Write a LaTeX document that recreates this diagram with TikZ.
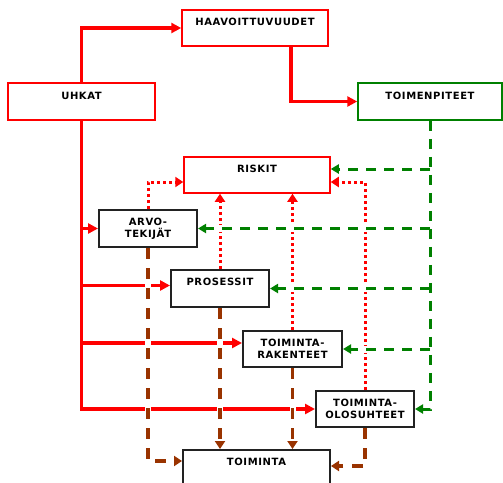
\documentclass[tikz,border=0pt]{standalone}
\usepackage{fontspec}
\newfontfamily\lblfont[LetterSpace=6]{DejaVu Sans}
\usetikzlibrary{arrows.meta}
\definecolor{rd}{RGB}{255,0,0}
\definecolor{gn}{RGB}{0,128,0}
\definecolor{bn}{RGB}{153,51,0}
\definecolor{bk}{RGB}{34,34,34}
\begin{document}
\begin{tikzpicture}[x=1pt,y=-1pt,
  box/.style={draw, fill=white, inner sep=0pt, align=center,
    font=\lblfont\bfseries\fontsize{10}{12}\selectfont},
  redbox/.style={box, draw=rd, line width=1.5pt},
  grnbox/.style={box, draw=gn, line width=1.5pt},
  blkbox/.style={box, draw=bk, line width=2pt},
  redsolid/.style={draw=rd, line width=3.5pt, -{Triangle[length=10pt,width=10pt]}},
  reddot/.style={draw=rd, line width=3pt, dash pattern=on 3pt off 3pt,
    -{Triangle[length=8pt,width=10pt]}},
  grn/.style={draw=gn, line width=3pt, dash pattern=on 10pt off 8pt,
    -{Triangle[length=8pt,width=9pt]},
    preaction={draw=white, line width=7pt, solid, -, shorten <=3pt, shorten >=9pt}},
  brn/.style={draw=bn, line width=3.5pt, dash pattern=on 11pt off 9pt,
    -{Triangle[length=8pt,width=10pt]},
    preaction={draw=white, line width=6pt, solid, -, shorten <=3pt, shorten >=9pt}}
]
\useasboundingbox (0,0) rectangle (503,482);
\clip (0,0) rectangle (503,482);

% boxes
\node[redbox, minimum width=146pt, minimum height=36pt, text height=15.5pt, text depth=20.5pt] (haav) at (255,28) {HAAVOITTUVUUDET};
\node[redbox, minimum width=147pt, minimum height=37pt, text height=16.2pt, text depth=20.8pt] (uhkat) at (81.5,101.5) {UHKAT};
\node[grnbox, minimum width=144pt, minimum height=37pt, text height=16.2pt, text depth=20.8pt] (toim) at (430,101.5) {TOIMENPITEET};
\node[redbox, minimum width=146pt, minimum height=36pt, text height=15.7pt, text depth=20.3pt] (risk) at (257,175) {RISKIT};
\node[blkbox, minimum width=98pt, minimum height=37pt] (arvo) at (148,228.5) {ARVO-\\TEKIJÄT};
\node[blkbox, minimum width=98pt, minimum height=37pt, text height=15.2pt, text depth=21.8pt] (pros) at (220,288.5) {PROSESSIT};
\node[blkbox, minimum width=99pt, minimum height=36pt] (rak) at (292.5,349) {TOIMINTA-\\RAKENTEET};
\node[blkbox, minimum width=98pt, minimum height=36pt] (olos) at (365,409) {TOIMINTA-\\OLOSUHTEET};
\node[blkbox, minimum width=147pt, minimum height=45pt, text height=15.2pt, text depth=29.8pt] (tmi) at (256.5,472.5) {TOIMINTA};

% helper coordinates
\coordinate (pW) at ([yshift=3pt]pros.west);
\coordinate (rW) at ([yshift=6pt]rak.west);
\coordinate (rkW) at ([yshift=-7pt]risk.west);
\coordinate (rkE) at ([yshift=-7pt]risk.east);
\coordinate (gE) at ([yshift=6pt]risk.east);
\coordinate (hS) at ([xshift=36pt]haav.south);
\coordinate (tW) at (tmi.west |- 0,461);
\coordinate (tE) at (tmi.east |- 0,466);

% red solid
\draw[redsolid] (uhkat.north) |- (haav.west);
\draw[redsolid] (hS) |- (toim.west);
\draw[redsolid] (uhkat.south) |- (olos.west);
\draw[redsolid] (uhkat.south |- arvo.west) -- (arvo.west);
\draw[redsolid] (uhkat.south |- pW) -- (pW);
\draw[redsolid] (uhkat.south |- rW) -- (rW);

% red dotted
\draw[reddot] (arvo.north) |- (rkW);
\draw[reddot] (pros.north) -- (pros.north |- risk.south);
\draw[reddot] (rak.north) -- (rak.north |- risk.south);
\draw[reddot] (olos.north) |- (rkE);

% brown dashed
\draw[brn] (arvo.south) |- (tW);
\draw[brn] (pros.south) -- (pros.south |- tmi.north);
\draw[brn] (rak.south) -- (rak.south |- tmi.north);
\draw[brn] (olos.south) |- (tE);

% green dashed
\draw[grn] (toim.south) |- (olos.east);
\draw[grn] (toim.south |- gE) -- (gE);
\draw[grn] (toim.south |- arvo.east) -- (arvo.east);
\draw[grn] (toim.south |- pros.east) -- (pros.east);
\draw[grn] (toim.south |- rak.east) -- (rak.east);
\end{tikzpicture}
\end{document}
